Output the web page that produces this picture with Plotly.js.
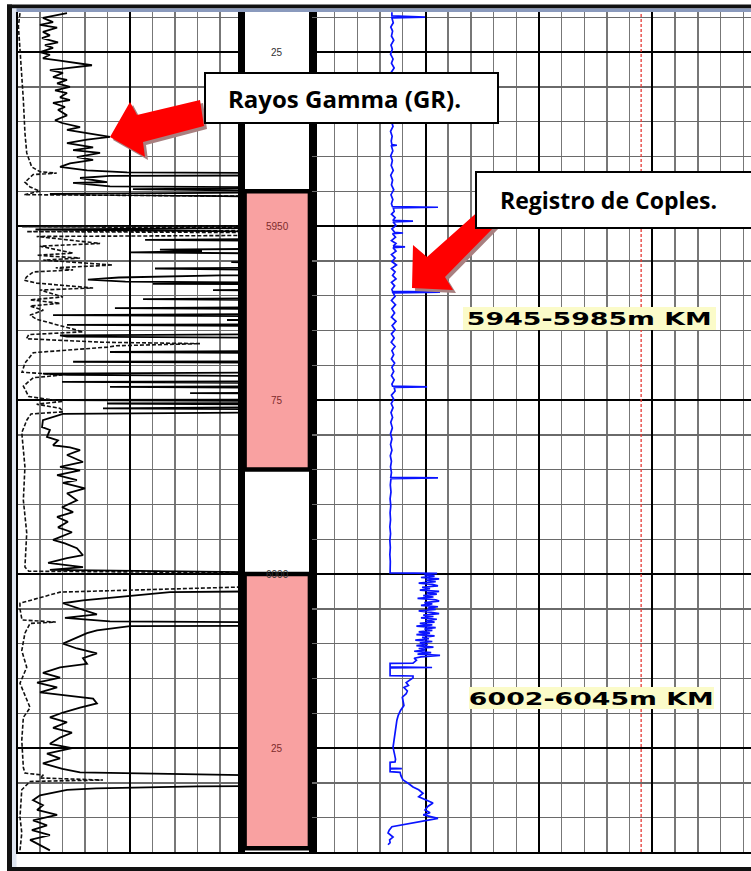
<!DOCTYPE html>
<html>
<head>
<meta charset="utf-8">
<script src="https://cdn.plot.ly/plotly-3.0.1.min.js"></script>
<style>html,body{margin:0;padding:0;background:#fff;}#chart{width:751px;height:871px;}</style>
</head>
<body>
<div id="chart"></div>
<script>
// ---------- DATA ----------
// Gamma ray (solid black), left track, value in track divisions (0-10), 14 = off-scale right
const grDepth = [5919.4,5920.1,5920.7,5921.1,5921.5,5922.1,5922.6,5923.0,5923.6,5924.0,5924.4,5925.0,5925.4,5925.9,5926.2,5926.6,5926.9,5927.3,5927.6,5928.0,5928.6,5929.0,5929.5,5930.0,5930.5,5930.9,5931.5,5931.9,5932.3,5932.9,5933.3,5934.1,5934.8,5935.2,5935.8,5936.2,5936.9,5937.2,5937.6,5938.1,5938.7,5939.1,5939.5,5940.1,5940.5,5941.0,5941.5,5942.0,5942.3,5942.4,5942.7,5942.8,5943.1,5943.7,5943.8,5944.3,5944.5,5944.7,5945.1,5945.4,5945.9,
5950.2,5950.5,5950.9,5951.8,5952.0,5952.2,5953.2,5953.4,5953.6,5953.8,5954.0,5955.0,5955.2,5955.3,5955.9,5956.1,5956.4,5957.0,5957.1,5957.4,5957.7,5958.0,5958.2,5958.3,5958.4,5959.1,5959.2,5959.3,5960.3,5960.5,5960.7,5961.6,5961.8,5962.0,5962.6,5962.8,5963.0,5963.4,5963.5,5963.6,5964.1,5964.2,5964.4,5965.5,5965.7,5965.9,5966.1,5967.9,5968.1,5968.3,5969.4,5969.5,5969.7,5971.0,5971.2,5971.4,5971.6,5972.3,5972.4,5972.6,5973.0,5973.1,5973.3,5973.9,5974.0,5974.1,5974.9,5975.0,5975.2,5975.4,5975.5,5975.7,5976.0,5976.2,5976.4,5976.7,
5977.0,5977.9,5978.9,5979.3,5980.3,5980.8,5981.5,5981.8,5982.2,5982.9,5983.9,5984.6,5985.1,5985.8,5986.5,5986.9,5987.7,5988.4,5989.4,5990.4,5991.1,5991.8,5992.5,5993.3,5994.0,5995.1,5995.6,5996.3,5997.3,5997.7,5998.4,5999.0,5999.4,5999.9,6002.4,6002.6,6003.8,6004.2,6005.8,6006.3,6006.8,6007.0,6007.4,6007.5,6008.1,6008.5,6010.0,6010.7,6011.4,6012.1,6012.9,6013.4,6014.2,6014.9,6015.6,6016.3,6017.0,6017.9,6018.6,6019.2,6019.9,6020.6,6021.3,6022.1,6022.8,6023.5,6024.4,6025.0,6025.8,6026.5,6027.2,6028.0,6028.5,6029.1,6030.4,6030.5,6030.8,6031.0,6031.8,6032.5,6033.2,6033.9,6034.6,6035.4,6036.1,6036.8,6037.5,6038.2,6038.9,6039.7];
const grValue = [2.2,1.13,1.58,1.0,1.76,1.13,1.44,1.09,1.8,1.22,1.58,1.0,1.44,1.13,1.8,2.64,3.31,2.2,1.44,2.02,1.58,2.2,1.76,2.33,1.67,2.2,1.89,2.33,1.58,2.11,1.8,2.2,1.67,1.98,2.78,2.2,3.67,4.11,3.09,2.2,3.36,2.47,3.67,2.64,3.36,2.33,1.89,3.09,4.87,14,14,4.11,2.78,3.98,2.47,4.11,14,5.13,14,1.44,14,
14,0.8,14,14,5.67,14,14,6.33,8.2,5.0,14,14,9.5,14,14,6.11,14,14,9.0,4.5,3.13,4.8,14,6.02,14,14,8.69,14,14,5.58,14,14,4.33,14,14,1.58,14,14,9.31,14,14,2.2,14,14,1.89,2.2,14,14,4.11,14,14,2.47,14,14,1.13,2.2,14,14,1.98,14,14,4.11,14,14,7.67,14,14,1.89,14,14,3.98,14,14,3.8,14,14,
2.02,1.13,1.09,1.44,1.31,1.8,1.58,2.33,2.78,2.2,2.91,1.89,2.78,1.76,2.64,2.02,3.0,2.2,2.64,1.98,2.47,1.76,2.24,1.8,2.42,1.58,2.11,2.64,2.91,2.2,1.36,2.91,1.44,14,14,6.78,2.91,2.02,3.53,2.11,4.11,14,14,5.0,3.53,3.09,2.02,2.64,3.53,2.91,3.09,1.89,1.13,1.89,0.87,1.76,1.0,3.36,3.53,2.78,2.02,1.44,2.2,1.58,2.42,1.89,1.44,2.42,1.31,1.89,1.13,2.0,2.78,14,14,8.0,3.5,2.2,1.0,0.69,1.13,0.87,1.76,0.69,1.31,0.64,1.44,0.56,1.0,1.44];

// Second curve (dashed black), left track, same units
const dashDepth = [5919.4,5921.3,5924.6,5928.0,5931.9,5936.6,5939.5,5941.5,5942.2,5942.4,5942.6,5943.7,5944.4,5945.0,5945.5,5945.8,5950.0,5950.1,5950.3,5950.6,5950.8,5951.0,5951.3,5951.5,5952.5,5952.9,5953.9,5954.2,5954.6,5954.9,5955.6,5956.0,5956.3,5956.6,5957.3,5957.8,5958.2,5958.9,5959.2,5960.2,5960.6,5961.1,5961.5,5962.1,5962.8,5963.4,5965.2,5965.6,5966.2,5966.7,5966.9,5967.2,5967.4,5968.2,5969.7,5971.0,5971.4,5971.8,5973.0,5974.5,5975.2,5975.6,5976.2,5976.7,5977.0,5977.9,5979.7,5984.6,5989.4,5994.1,5999.0,5999.6,5999.9,6001.4,6001.5,6002.6,6003.8,6004.2,6005.0,6006.6,6006.9,6007.1,6008.5,6011.0,6013.4,6015.7,6019.2,6020.6,6023.9,6027.8,6028.6,6028.9,6029.3,6029.6,6029.8,6031.0,6034.9,6037.2,6039.7];
const dashValue = [0.11,0.04,0.11,0.19,0.26,0.33,0.41,0.63,1.0,1.74,0.7,0.33,0.56,1.0,0.3,14,14,0.2,14,14,0.4,14,14,0.85,3.67,1.0,2.47,0.85,2.78,1.15,4.24,1.7,2.47,0.7,0.41,0.3,0.85,3.36,1.0,2.02,0.56,1.89,0.56,1.15,0.56,0.85,2.91,0.5,0.4,3.8,8.11,4.4,4.0,0.7,0.33,0.2,2.0,0.7,0.26,0.5,2.02,0.85,1.9,2.02,0.6,0.41,0.19,0.33,0.26,0.41,0.33,0.5,14,14,14,1.89,0.56,0.11,0.11,0.2,1.7,0.56,0.33,0.19,0.41,0.11,0.56,0.26,0.19,0.26,0.33,1.15,1.0,3.8,0.56,0.19,0.11,0.19,0.11];

// Collar locator (blue), right track, value in track divisions
const cclDepth = [5919.3,5919.8,5920.0,5920.1,5920.8,5921.4,5922.0,5922.7,5923.3,5924.0,5924.6,5925.3,5926.0,5926.6,5927.3,5928.0,5928.7,5929.4,5930.1,5930.8,5931.5,5932.2,5932.9,5933.6,5934.3,5935.0,5935.7,5936.4,5937.1,5937.8,5938.3,5938.4,5938.5,5939.2,5939.9,5940.6,5941.3,5942.0,5942.7,5943.4,5944.1,5944.8,5945.5,5946.2,5946.8,5947.2,5947.3,5947.4,5947.9,5948.3,5948.8,5949.2,5949.3,5949.4,5949.9,5950.4,5950.9,5951.0,5951.1,5951.6,5952.1,5952.5,5952.9,5953.0,5953.1,5953.6,5954.1,5954.6,5955.1,5955.6,5956.1,5956.6,5957.1,5957.6,5958.1,5958.6,5959.1,5959.4,5959.5,5959.6,5960.1,5960.7,5961.3,5961.9,5962.5,5963.1,5963.7,5964.3,5964.9,5965.5,5966.1,5966.7,5967.3,5967.9,5968.5,5969.1,5969.7,5970.3,5970.9,5971.5,5972.1,5972.7,5973.0,5973.1,5973.2,5973.7,5974.3,5974.9,5975.5,5976.1,5976.8,5977.5,5978.2,5979.0,5979.8,5980.6,5981.4,5982.2,5983.0,5983.8,5984.6,5985.4,5986.1,5986.2,5986.3,5987.2,5988.2,5989.2,5990.2,5991.2,5992.2,5993.2,5994.2,5995.2,5996.2,5997.2,5998.2,5999.2,5999.85,5999.9,
6000.1,6000.3,6000.5,6000.7,6000.9,6001.1,6001.3,6001.5,6001.7,6001.9,6002.1,6002.3,6002.5,6002.7,6002.9,6003.1,6003.3,6003.5,6003.7,6003.9,6004.1,6004.3,6004.5,6004.7,6004.9,6005.1,6005.3,6005.5,6005.7,6005.9,6006.1,6006.3,6006.5,6006.7,6006.9,6007.1,6007.3,6007.5,6007.7,6007.9,6008.1,6008.3,6008.5,6008.7,6008.9,6009.1,6009.3,6009.5,6009.7,6009.9,6010.1,6010.3,6010.5,6010.7,6010.9,6011.1,6011.3,6011.5,6011.7,6011.9,6012.1,6012.4,6012.8,6012.85,6013.35,6013.43,6013.5,6014.6,6014.65,6014.9,6015.3,6015.6,6016.0,6016.3,6016.8,6017.2,6017.7,6018.2,6018.9,6019.6,6020.3,6021.0,6022.0,6022.9,6023.9,6024.9,6025.8,6026.6,6027.0,6027.05,6027.9,6027.95,6028.0,6028.4,6028.5,6029.0,6029.6,6030.1,6030.6,6031.0,6031.5,6032.0,6032.5,6032.9,6033.4,6033.9,6034.3,6034.6,6035.1,6035.4,6036.0,6036.3,6036.8,6037.2,6037.8,6038.2,6038.6,6038.9];
const cclValue = [3.52,3.52,4.98,3.52,3.58,3.47,3.55,3.5,3.6,3.48,3.54,3.46,3.57,3.5,3.62,3.47,3.53,3.49,3.58,3.46,3.55,3.5,3.6,3.47,3.54,3.5,3.57,3.46,3.53,3.49,3.52,3.74,3.5,3.56,3.47,3.54,3.49,3.58,3.47,3.55,3.5,3.6,3.48,3.56,3.5,3.54,5.55,3.58,3.62,3.5,3.66,3.56,4.45,3.57,3.7,3.52,3.64,4.01,3.55,3.68,3.5,3.7,3.58,4.1,3.57,3.7,3.5,3.66,3.52,3.72,3.5,3.66,3.55,3.7,3.5,3.64,3.52,3.55,5.64,3.57,3.66,3.5,3.68,3.52,3.64,3.5,3.7,3.53,3.66,3.5,3.62,3.49,3.66,3.52,3.6,3.5,3.64,3.52,3.6,3.5,3.62,3.52,3.55,5.07,3.62,3.66,3.5,3.6,3.49,3.57,3.48,3.55,3.47,3.54,3.46,3.52,3.46,3.52,3.45,3.5,3.46,3.5,3.47,5.55,3.48,3.45,3.48,3.44,3.47,3.44,3.46,3.43,3.46,3.43,3.45,3.43,3.45,3.43,3.44,5.51,
4.95,5.4,4.8,5.6,5.0,5.45,4.7,5.3,5.55,4.85,5.2,4.75,5.6,5.05,5.5,4.9,5.35,4.65,5.45,5.6,4.95,5.3,4.8,5.55,5.1,5.45,4.7,5.25,5.6,4.9,5.35,4.8,5.5,5.0,5.4,4.75,5.3,4.6,5.45,4.95,5.3,4.7,5.2,4.6,5.4,4.85,5.15,4.55,5.3,4.75,5.1,4.6,5.35,4.7,5.0,4.5,5.25,4.65,5.64,4.8,4.5,4.6,4.45,3.44,3.44,5.29,3.44,3.44,4.45,4.45,4.3,4.15,4.25,4.05,4.2,4.15,3.98,4.0,4.05,3.9,3.8,3.74,3.7,3.66,3.6,3.57,3.63,3.68,3.66,3.44,3.44,3.96,3.44,3.44,3.88,3.92,4.01,4.25,4.45,4.7,4.89,4.7,5.07,5.33,5.1,4.98,5.2,4.9,5.55,5.07,4.01,3.52,3.4,3.35,3.57,3.42,3.44,3.35];

// Depth track
const depthTicks = [5925, 5950, 5975, 6000, 6025];
const depthLabels = ["25", "5950", "75", "6000", "25"];
const intervalTop = [5945, 6000];
const intervalBottom = [5985, 6039.4];
const intervalLabels = ["5945-5985m KM", "6002-6045m KM"];
const cutoffValue = 14.5;   // red dashed line, right track
const calloutLabels = ["Rayos Gamma (GR).", "Registro de Coples."];

// ---------- LAYOUT ----------
const W = 751, H = 871;
const px = v => v / W;
const py = v => 1 - v / H;
const depthRange = [6039.94, 5919.25];
const yDom = [py(852), py(12)];

function trackY(anchor, grid) {
  const a = {
    domain: yDom, range: depthRange, anchor: anchor,
    showticklabels: false, ticks: '', zeroline: false, fixedrange: true,
    showline: true, mirror: true, linecolor: '#000', linewidth: 2
  };
  if (grid) {
    Object.assign(a, {
      showgrid: true, tick0: 5925, dtick: 25, gridcolor: '#000', gridwidth: 2,
      minor: {dtick: 5, tick0: 5925, showgrid: true, gridcolor: '#6a6a6a', gridwidth: 1.4, ticks: ''}
    });
  } else {
    a.showgrid = false;
  }
  return a;
}
function trackX(dom, range, anchor, grid) {
  const a = {
    domain: dom, range: range, anchor: anchor,
    showticklabels: false, ticks: '', zeroline: false, fixedrange: true,
    showline: true, linecolor: '#000', linewidth: 2
  };
  if (grid) {
    Object.assign(a, {
      showgrid: true, tick0: 0, dtick: 5, gridcolor: '#000', gridwidth: 2,
      minor: {dtick: 1, tick0: 0, showgrid: true, gridcolor: '#777', gridwidth: 1.4, ticks: ''}
    });
  } else {
    a.showgrid = false;
  }
  return a;
}

const yL = trackY('x', true);
const yD = trackY('x2', false); yD.linewidth = 5;
const yR = trackY('x3', true); yR.mirror = false; yR.linewidth = 3;

const data = [
  {x: dashValue, y: dashDepth, xaxis: 'x', yaxis: 'y', mode: 'lines', type: 'scatter',
   line: {color: '#111', width: 1.6, dash: '4px,2px'}, hoverinfo: 'skip'},
  {x: grValue, y: grDepth, xaxis: 'x', yaxis: 'y', mode: 'lines', type: 'scatter',
   line: {color: '#000', width: 1.8}, hoverinfo: 'skip'},
  {x: cclValue, y: cclDepth, xaxis: 'x3', yaxis: 'y3', mode: 'lines', type: 'scatter',
   line: {color: '#0a14ff', width: 1.7}, hoverinfo: 'skip'}
];

const shapes = [];
// outer frame
shapes.push({type: 'rect', xref: 'paper', yref: 'paper', x0: px(7), x1: px(760), y0: py(4.5), y1: py(8.5), fillcolor: '#111', line: {width: 0}, layer: 'below'});
shapes.push({type: 'rect', xref: 'paper', yref: 'paper', x0: px(12), x1: px(760), y0: py(8.5), y1: py(12), fillcolor: '#8a9abd', line: {width: 0}, layer: 'below'});
shapes.push({type: 'rect', xref: 'paper', yref: 'paper', x0: px(7), x1: px(12), y0: py(4.5), y1: py(871), fillcolor: '#111', line: {width: 0}, layer: 'below'});
shapes.push({type: 'rect', xref: 'paper', yref: 'paper', x0: px(12), x1: px(16.5), y0: py(8.5), y1: py(867), fillcolor: '#dfe6f1', line: {width: 0}, layer: 'below'});
shapes.push({type: 'rect', xref: 'paper', yref: 'paper', x0: px(7), x1: px(760), y0: py(867), y1: py(872), fillcolor: '#111', line: {width: 0}, layer: 'below'});

// depth-track intervals
intervalTop.forEach((t, i) => {
  shapes.push({type: 'rect', xref: 'x2', yref: 'y2', x0: 0.03, x1: 0.97, y0: t, y1: intervalBottom[i],
    fillcolor: '#f9a1a1', line: {color: '#000', width: 4.5}, layer: 'below'});
});
// cutoff line
shapes.push({type: 'line', xref: 'x3', yref: 'y3 domain', x0: cutoffValue, x1: cutoffValue, y0: 0, y1: 1,
  line: {color: '#e53935', width: 1.3, dash: '3px,2px'}});

// arrows (decorations)
function poly(pts, dx, dy) {
  return 'M' + pts.map(p => px(p[0] + dx) + ',' + py(p[1] + dy)).join(' L') + ' Z';
}
const arrow1 = [[110,137],[130,102],[137,115],[200,100],[204,126],[143,142],[145,157]];
const arrow2 = [[412,288],[413,245],[427,257],[482,208],[498,223],[445,277],[453,290]];
[arrow1, arrow2].forEach(a => {
  shapes.push({type: 'path', xref: 'paper', yref: 'paper', path: poly(a, 3, 3), fillcolor: '#a88080', line: {width: 0}});
  shapes.push({type: 'path', xref: 'paper', yref: 'paper', path: poly(a, 0, 0), fillcolor: '#ff0000', line: {width: 0}});
});
// callout boxes
shapes.push({type: 'rect', xref: 'paper', yref: 'paper', x0: px(205), x1: px(498), y0: py(73), y1: py(123), fillcolor: '#fff', line: {color: '#000', width: 2}});
shapes.push({type: 'rect', xref: 'paper', yref: 'paper', x0: px(476), x1: px(762), y0: py(172), y1: py(228), fillcolor: '#fff', line: {color: '#000', width: 2}});
// interval label backgrounds
shapes.push({type: 'rect', xref: 'paper', yref: 'paper', x0: px(463), x1: px(716), y0: py(307), y1: py(330), fillcolor: '#fbfbc9', line: {width: 0}});
shapes.push({type: 'rect', xref: 'paper', yref: 'paper', x0: px(469), x1: px(714), y0: py(687), y1: py(709), fillcolor: '#fbfbc9', line: {width: 0}});

const annotations = [];
depthTicks.forEach((d, i) => {
  const inInterval = intervalTop.some((t, k) => d > t && d < intervalBottom[k]);
  annotations.push({xref: 'x2', yref: 'y2', x: 0.5, y: d, xanchor: 'center', yanchor: 'middle', text: depthLabels[i], showarrow: false,
    font: {family: 'Liberation Sans, Arial, sans-serif', size: 10, color: inInterval ? '#7d2c2c' : '#333'}});
});
const txt = (x, y, s, fam, size) => ({xref: 'paper', yref: 'paper', x: px(x), y: py(y), xanchor: 'center', yanchor: 'middle',
  text: '<b>' + s + '</b>', showarrow: false, font: {family: fam, size: size, color: '#000'}});
annotations.push(txt(344, 98, calloutLabels[0], 'Open Sans, sans-serif', 24));
annotations.push(txt(608, 200, calloutLabels[1], 'Open Sans, sans-serif', 23));
annotations.push(txt(589.5, 318.5, intervalLabels[0], 'DejaVu Sans, sans-serif', 18));
annotations.push(txt(591.5, 698, intervalLabels[1], 'DejaVu Sans, sans-serif', 18));

const layout = {
  width: W, height: H, margin: {l: 0, r: 0, t: 0, b: 0, pad: 0},
  paper_bgcolor: '#fff', plot_bgcolor: '#fff', showlegend: false,
  xaxis: trackX([px(17.5), px(242.5)], [0, 10], 'y', true),
  yaxis: yL,
  xaxis2: trackX([px(242.5), px(312)], [0, 1], 'y2', false),
  yaxis2: yD,
  xaxis3: trackX([px(312), 1], [0, 19.34], 'y3', true),
  yaxis3: yR,
  shapes: shapes, annotations: annotations
};

Plotly.newPlot('chart', data, layout, {staticPlot: true, displayModeBar: false}).then(gd => {
  // widen the interval labels to match the stretched lettering of the original
  gd.querySelectorAll('.annotation-text').forEach(t => {
    if (/KM$/.test(t.textContent)) {
      const b = t.getBBox();
      if (b.width > 0) {
        const sx = 245 / b.width;
        const cx = b.x + b.width / 2;
        const prev = t.getAttribute('transform') || '';
        t.setAttribute('transform', prev + ' matrix(' + sx + ',0,0,1,' + (cx * (1 - sx)) + ',0)');
      }
    }
  });
});
</script>
</body>
</html>
